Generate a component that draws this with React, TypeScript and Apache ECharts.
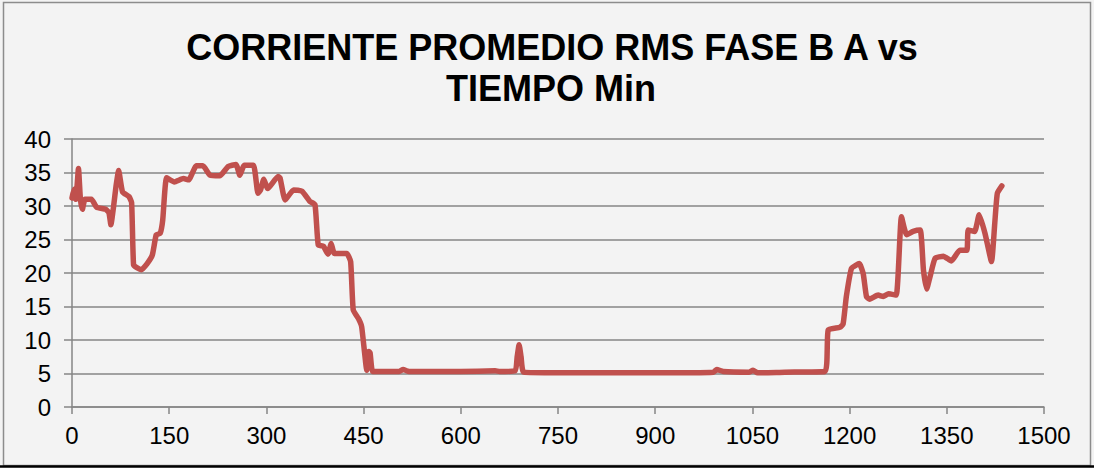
import React, { useEffect, useRef } from "react";
import * as echarts from "echarts";

const titleLines = ["CORRIENTE PROMEDIO RMS FASE B A vs", "TIEMPO Min"];
const xTicks = { min: 0, max: 1500, interval: 150 };
const yTicks = { min: 0, max: 40, interval: 5 };

// minutes
const minutes = [
  0, 3, 6, 10, 13, 16, 20, 30, 38, 52, 57, 60, 64, 68, 72, 78, 88, 92, 95, 100,
  107, 116, 124, 130, 136, 140, 146, 158, 172, 180, 192, 202, 213, 228, 241, 253, 259, 266, 280, 287,
  291, 296, 302, 318, 321, 329, 342, 355, 367, 375, 380, 388, 395, 400, 405, 424, 430, 434, 442, 447,
  455, 458, 460, 464, 480, 505, 511, 520, 600, 653, 660, 684, 687, 690, 693, 697, 750, 900, 990, 995,
  1005, 1045, 1051, 1058, 1100, 1162, 1167, 1185, 1190, 1195, 1203, 1215, 1221, 1226, 1231, 1244, 1252, 1260, 1272, 1280,
  1288, 1298, 1309, 1314, 1319, 1324, 1332, 1345, 1357, 1370, 1381, 1383, 1393, 1400, 1409, 1419, 1424, 1428, 1435,
];
// current (A)
const current = [
  31.2, 32.5, 31.0, 35.6, 31.0, 29.5, 31.0, 31.0, 29.8, 29.5, 29.0, 27.2, 29.8, 33.0, 35.3, 32.1, 31.4, 30.5, 21.2, 20.8,
  20.5, 21.4, 22.7, 25.7, 25.9, 27.9, 34.2, 33.6, 34.1, 33.9, 36.0, 36.0, 34.6, 34.5, 35.9, 36.2, 34.6, 36.1, 36.1, 31.9,
  32.4, 34.0, 32.6, 34.4, 34.2, 30.9, 32.4, 32.2, 30.7, 30.2, 24.2, 24.0, 22.8, 24.4, 22.9, 22.9, 21.7, 14.5, 13.2, 12.0,
  5.5, 8.3, 8.1, 5.3, 5.3, 5.3, 5.6, 5.3, 5.3, 5.4, 5.3, 5.4, 7.5, 9.3, 7.5, 5.2, 5.1, 5.1, 5.2, 5.6,
  5.3, 5.2, 5.5, 5.1, 5.2, 5.3, 11.5, 11.9, 12.4, 16.5, 20.7, 21.4, 19.9, 16.5, 16.1, 16.7, 16.5, 16.9, 16.7, 28.4,
  25.7, 26.2, 26.4, 20.4, 17.6, 19.4, 22.2, 22.5, 21.8, 23.4, 23.4, 26.4, 26.2, 28.7, 25.9, 21.7, 27.4, 31.9, 33.0,
];

const FONT = "'Liberation Sans', Arial, sans-serif";

export default function App() {
  const ref = useRef<HTMLDivElement>(null);
  useEffect(() => {
    document.body.style.margin = "0";
    const chart = echarts.init(ref.current!, null, { renderer: "svg" });
    const gridColor = "#868686";
    chart.setOption({
      animation: false,
      backgroundColor: "#f3f3f3",
      textStyle: { fontFamily: FONT },
      graphic: [
        {
          type: "rect",
          shape: { x: 3.5, y: 2.5, width: 1087, height: 463 },
          style: { fill: "none", stroke: "#8c8c8c", lineWidth: 1.5 },
          silent: true,
        },
        {
          type: "line",
          shape: { x1: 0, y1: 466.5, x2: 1094, y2: 466.5 },
          style: { stroke: "#000", lineWidth: 2.5 },
          silent: true,
        },
        {
          type: "text",
          x: 552,
          y: 47,
          style: {
            text: titleLines[0],
            fontSize: 36,
            fontWeight: "bold",
            fontFamily: FONT,
            fill: "#000",
            align: "center",
            verticalAlign: "middle",
          },
        },
        {
          type: "text",
          x: 551,
          y: 88,
          style: {
            text: titleLines[1],
            fontSize: 36,
            fontWeight: "bold",
            fontFamily: FONT,
            fill: "#000",
            align: "center",
            verticalAlign: "middle",
          },
        },
      ],
      grid: { left: 72, right: 50, top: 139, bottom: 61 },
      xAxis: {
        type: "value",
        min: xTicks.min,
        max: xTicks.max,
        interval: xTicks.interval,
        axisLine: { show: true, lineStyle: { color: gridColor, width: 1.5 } },
        axisTick: { show: true, length: 7, lineStyle: { color: gridColor, width: 1.5 } },
        axisLabel: {
          color: "#000",
          fontSize: 24,
          margin: 16,
          fontFamily: FONT,
          formatter: (v: number) => String(v),
        },
        splitLine: { show: false },
      },
      yAxis: {
        type: "value",
        min: yTicks.min,
        max: yTicks.max,
        interval: yTicks.interval,
        axisLine: { show: true, lineStyle: { color: gridColor, width: 1.5 } },
        axisTick: { show: true, length: 8, lineStyle: { color: gridColor, width: 1.5 } },
        axisLabel: { color: "#000", fontSize: 24, margin: 21, fontFamily: FONT },
        splitLine: { show: true, lineStyle: { color: gridColor, width: 1.5 } },
      },
      series: [
        {
          type: "line",
          data: minutes.map((m, i) => [m, current[i]]),
          showSymbol: false,
          symbol: "none",
          smooth: 0.15,
          lineStyle: { color: "#c0504d", width: 5.5, cap: "round", join: "round" },
          itemStyle: { color: "#c0504d" },
        },
      ],
    });
    return () => chart.dispose();
  }, []);
  return <div ref={ref} style={{ width: 1094, height: 468 }} />;
}
